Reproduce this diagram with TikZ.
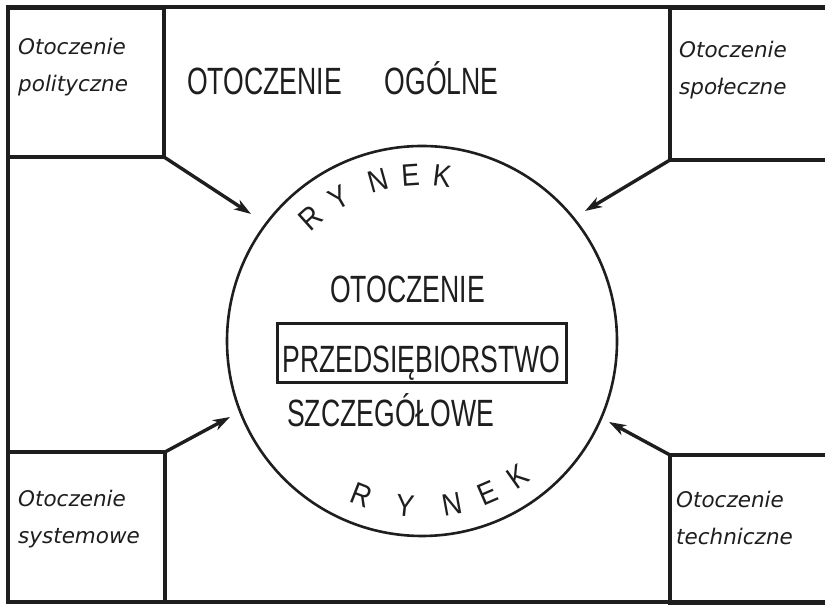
\documentclass[tikz,border=0pt]{standalone}
\usepackage{fontspec}
\setmainfont{Liberation Sans}
\newfontfamily\capsfont[FakeStretch=0.7]{Liberation Sans}
\newfontfamily\ringfont[FakeStretch=0.88]{Liberation Sans}
\newfontfamily\notefont{DejaVu Sans}
\usetikzlibrary{arrows.meta}
\definecolor{ink}{HTML}{1E1E1E}
\tikzset{
  wall/.style={draw=ink, line width=3.6pt, inner sep=0pt, outer sep=0pt},
  note/.style={inner sep=0pt, anchor=north west, align=left,
    font=\notefont\itshape\fontsize{21.5}{37}\selectfont, text=ink},
  caps/.style={inner sep=0pt, font=\capsfont\fontsize{38}{40}\selectfont, text=ink},
  ringletter/.style={inner sep=0pt, font=\ringfont\fontsize{31}{33}\selectfont, text=ink},
  push/.style={draw=ink, line width=3.4pt, -{Stealth[length=17pt,width=11pt,inset=5pt]}},
}
\begin{document}
\begin{tikzpicture}[x=1pt,y=1pt]
\useasboundingbox (0,0) rectangle (825,607);
\fill[white] (0,0) rectangle (825,607);
\clip (0,0) rectangle (825,607);

% outer frame and the four corner boxes
\node[wall, minimum width=824pt, minimum height=595pt, anchor=south west] (frame) at (8,5) {};
\node[wall, minimum width=156pt, minimum height=149pt, anchor=north west] (pol) at (8,599) {};
\node[wall, minimum width=162pt, minimum height=152pt, anchor=north west] (soc) at (670,599) {};
\node[wall, minimum width=157pt, minimum height=150pt, anchor=south west] (sys) at (8,5) {};
\node[wall, minimum width=162pt, minimum height=148pt, anchor=south west] (tech) at (670,4) {};

% box labels
\node[note] (pol-text) at (18,569) {Otoczenie\\polityczne};
\node[note] (soc-text) at (679,566) {Otoczenie\\społeczne};
\node[note] (sys-text) at (18,117) {Otoczenie\\systemowe};
\node[note] (tech-text) at (676,116) {Otoczenie\\techniczne};

% general environment title
\node[caps, anchor=base west] (general) at (187,512) {OTOCZENIE\hspace{43pt}OGÓLNE};

% the market circle
\node[draw=ink, line width=2.6pt, circle, minimum size=390pt, inner sep=0pt] (ring) at (422,266) {};

\foreach \ch/\ang/\rot [count=\i] in {R/132/42, Y/120/30, N/105.5/15.5, E/94/4, K/83/-7}
  \node[ringletter, rotate=\rot] (upper-\i) at ([shift={(\ang:166)}]ring.center) {\ch};
\foreach \ch/\ang/\rot [count=\i] in {R/-111.4/-21.4, Y/-95.9/-5.9, N/-79.6/10.4, E/-66.7/23.3, K/-54.8/35.2}
  \node[ringletter, rotate=\rot] (lower-\i) at ([shift={(\ang:166)}]ring.center) {\ch};

% inner texts
\node[caps, anchor=base west] (detail-top) at (330,304) {OTOCZENIE};
\node[draw=ink, line width=3pt, caps, anchor=base, minimum width=289pt,
      text height=49.5pt, text depth=9.5pt] (firm) at (421.5,234) {PRZEDSIĘBIORSTWO};
\node[caps, anchor=base west] (detail-bottom) at (287,180) {SZCZEGÓŁOWE};

% influences pointing into the market
\coordinate (tip-pol) at (251,393);
\coordinate (tip-soc) at (585,396);
\coordinate (tip-sys) at (230,190);
\coordinate (tip-tech) at (609,185);
\draw[push] (pol.south east) -- (tip-pol);
\draw[push] (soc.south west) -- (tip-soc);
\draw[push] (sys.north east) -- (tip-sys);
\draw[push] (tech.north west) -- (tip-tech);
\end{tikzpicture}
\end{document}
